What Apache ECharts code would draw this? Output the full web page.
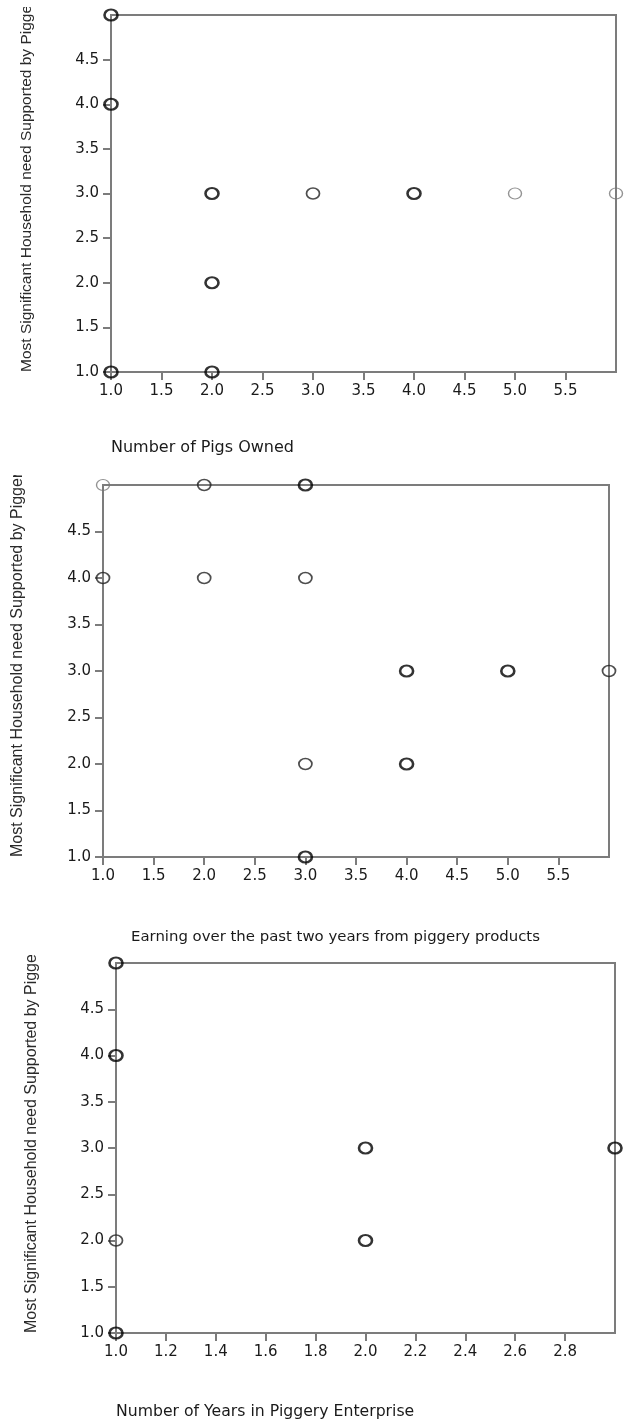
<!DOCTYPE html>
<html>
<head>
<meta charset="utf-8">
<script src="https://cdn.jsdelivr.net/npm/echarts@6/dist/echarts.min.js"></script>
<style>
body { margin: 0; background: #fff; }
.plot { position: absolute; left: 0; width: 629px; overflow: hidden; }
#c1 { top: 7px; height: 461px; }
#c2 { top: 475px; height: 475px; }
#c3 { top: 955px; height: 466px; }
</style>
</head>
<body>
<div id="c1" class="plot"></div>
<div id="c2" class="plot"></div>
<div id="c3" class="plot"></div>
<script>
// y variable shared by all three plots
var yName = 'Most Significant Household need Supported by Piggery'
var yTicks = [1.0, 1.5, 2.0, 2.5, 3.0, 3.5, 4.0, 4.5, 5.0]

// plot 1: number of pigs owned
// many = several cases on one spot (drawn heavy), one = single case, faint = light case
var pigsName = 'Number of Pigs Owned'
var pigsMany = [[1, 5], [1, 4], [1, 1], [2, 3], [2, 2], [2, 1], [4, 3]]
var pigsOne = [[3, 3]]
var pigsFaint = [[5, 3], [6, 3]]

// plot 2: earning over the past two years
var earnName = 'Earning over the past two years from piggery products'
var earnMany = [[3, 5], [3, 1], [4, 3], [5, 3], [4, 2]]
var earnOne = [[2, 5], [1, 4], [2, 4], [3, 4], [3, 2], [6, 3]]
var earnFaint = [[1, 5]]

// plot 3: years in piggery enterprise
var yearsName = 'Number of Years in Piggery Enterprise'
var yearsMany = [[1, 5], [1, 4], [1, 1], [2, 3], [2, 2], [3, 3]]
var yearsOne = [[1, 2]]
var yearsFaint = []

var axisGray = '#7c7c7c'
var txt = '#1a1a1a'

function ring (data, color, width) {
  return {
    type: 'scatter', data: data, clip: false,
    symbol: 'circle', symbolSize: [13, 11],
    itemStyle: { color: 'rgba(255,255,255,0)', borderColor: color, borderWidth: width }
  }
}

function makeChart (id, g, x, pts, xTitle) {
  var chart = echarts.init(document.getElementById(id))
  chart.setOption({
    animation: false,
    grid: {
      left: g.left, top: g.top, width: g.width, height: g.height,
      show: true, borderColor: axisGray, borderWidth: 2
    },
    xAxis: {
      type: 'value',
      min: x.min, max: x.max, interval: x.step,
      axisLine: { lineStyle: { color: axisGray, width: 2 } },
      axisTick: { length: 8, lineStyle: { color: axisGray, width: 2 } },
      splitLine: { show: false },
      axisLabel: {
        showMaxLabel: false, margin: 12, color: txt,
        fontFamily: 'DejaVu Sans', fontSize: 15,
        formatter: function (v) { return v.toFixed(1) }
      }
    },
    yAxis: {
      type: 'value',
      min: yTicks[0], max: yTicks[yTicks.length - 1], interval: 0.5,
      axisLine: { show: true, lineStyle: { color: axisGray, width: 2 } },
      axisTick: { show: true, length: 8, lineStyle: { color: axisGray, width: 2 } },
      splitLine: { show: false },
      axisLabel: {
        showMaxLabel: false, margin: 12, color: txt,
        fontFamily: 'DejaVu Sans', fontSize: 15,
        formatter: function (v) { return v.toFixed(1) }
      }
    },
    graphic: [
      {
        type: 'text', x: g.yNameX, y: g.top + g.height, rotation: Math.PI / 2,
        style: {
          text: yName, fill: '#2a2a2a', textAlign: 'left', textVerticalAlign: 'middle',
          font: g.yFont + 'px "Liberation Sans", Arial, sans-serif'
        }
      },
      {
        type: 'text', x: g.xNameX, y: g.xNameY,
        style: {
          text: xTitle, fill: txt, textAlign: 'left', textVerticalAlign: 'middle',
          font: g.xFont + 'px "DejaVu Sans", sans-serif'
        }
      }
    ],
    series: [
      ring(pts.faint, '#777', 1.3),
      ring(pts.one, '#222', 1.6),
      ring(pts.many, '#000', 2.4)
    ]
  })
  return chart
}

makeChart('c1', { left: 111, top: 8, width: 505, height: 357, yNameX: 27, yFont: 15.5, xNameX: 111, xNameY: 441, xFont: 16 },
  { min: 1, max: 6, step: 0.5 }, { many: pigsMany, one: pigsOne, faint: pigsFaint }, pigsName)
makeChart('c2', { left: 103, top: 10, width: 506, height: 372, yNameX: 18, yFont: 16, xNameX: 131, xNameY: 462, xFont: 14.9 },
  { min: 1, max: 6, step: 0.5 }, { many: earnMany, one: earnOne, faint: earnFaint }, earnName)
makeChart('c3', { left: 116, top: 8, width: 499, height: 370, yNameX: 32, yFont: 16, xNameX: 116, xNameY: 457, xFont: 15.7 },
  { min: 1, max: 3, step: 0.2 }, { many: yearsMany, one: yearsOne, faint: yearsFaint }, yearsName)
</script>
</body>
</html>
